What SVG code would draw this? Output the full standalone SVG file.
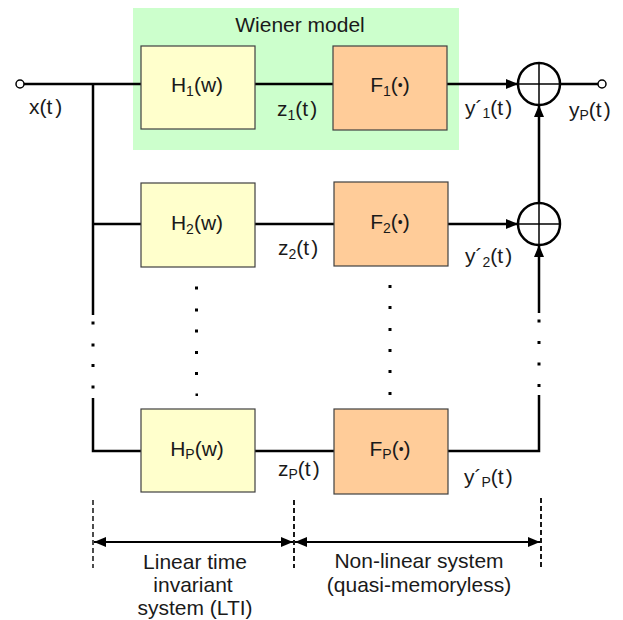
<svg xmlns="http://www.w3.org/2000/svg" width="623" height="620" viewBox="0 0 623 620">
<defs>
<style>
text{font-family:"Liberation Sans",Arial,sans-serif;font-size:21px;fill:#1a1a1a}
.c{text-anchor:middle}
.s{font-size:14px}
.b{font-size:14px}
.ln{stroke:#000;stroke-width:2.5;fill:none}
.hb{fill:#FFFFCC;stroke:#404040;stroke-width:1.2}
.fb{fill:#FFCC99;stroke:#404040;stroke-width:1.2}
.sum{fill:#fff;stroke:#000;stroke-width:2.5}
.x{stroke:#000;stroke-width:1.5}
.dash{stroke:#000;stroke-width:1.8;stroke-dasharray:5,3;fill:none}
.dot{fill:#000}
</style>
<marker id="ah" viewBox="0 0 12 10" refX="12" refY="5" markerWidth="12" markerHeight="10" markerUnits="userSpaceOnUse" orient="auto">
<path d="M0,0 L12,5 L0,10 Z" fill="#000"/>
</marker>
<marker id="as" viewBox="0 0 12 10" refX="0" refY="5" markerWidth="12" markerHeight="10" markerUnits="userSpaceOnUse" orient="auto">
<path d="M12,0 L0,5 L12,10 Z" fill="#000"/>
</marker>
</defs>

<g id="wiener">
<rect x="133" y="8" width="326" height="142" fill="#CCFFCC"/>
<text class="c" x="300" y="32">Wiener model</text>
</g>

<g id="connectors">
<line class="ln" x1="24" y1="84" x2="141" y2="84"/>
<line class="ln" x1="93" y1="84" x2="93" y2="315"/>
<polyline class="ln" points="93,398 93,451 141,451"/>
<line class="ln" x1="93" y1="224" x2="141" y2="224"/>
<line class="ln" x1="255" y1="84" x2="333" y2="84"/>
<line class="ln" x1="255" y1="224" x2="334" y2="224"/>
<line class="ln" x1="255" y1="451" x2="334" y2="451"/>
<line class="ln" x1="447" y1="84" x2="518" y2="84" marker-end="url(#ah)"/>
<line class="ln" x1="448" y1="224" x2="518" y2="224" marker-end="url(#ah)"/>
<line class="ln" x1="539" y1="203" x2="539" y2="105" marker-end="url(#ah)"/>
<line class="ln" x1="539" y1="313" x2="539" y2="245" marker-end="url(#ah)"/>
<polyline class="ln" points="448,451 539,451 539,395"/>
<line class="ln" x1="560" y1="84" x2="598" y2="84"/>
<g class="dot">
<rect x="91.5" y="321.5" width="3" height="3"/>
<rect x="91.5" y="343.5" width="3" height="3"/>
<rect x="91.5" y="364" width="3" height="3"/>
<rect x="91.5" y="385.5" width="3" height="3"/>
<rect x="537.5" y="319.5" width="3" height="3"/>
<rect x="537.5" y="341" width="3" height="3"/>
<rect x="537.5" y="362.5" width="3" height="3"/>
<rect x="537.5" y="384" width="3" height="3"/>
<rect x="195" y="286.5" width="3" height="3"/>
<rect x="195" y="308.5" width="3" height="3"/>
<rect x="195" y="329.5" width="3" height="3"/>
<rect x="195" y="351" width="3" height="3"/>
<rect x="195" y="372" width="3" height="3"/>
<rect x="195.5" y="393.5" width="2.5" height="2.5"/>
<rect x="388.5" y="285" width="3" height="3"/>
<rect x="388.5" y="306" width="3" height="3"/>
<rect x="388.5" y="328" width="3" height="3"/>
<rect x="388.5" y="349" width="3" height="3"/>
<rect x="388.5" y="370" width="3" height="3"/>
<rect x="388.5" y="392" width="3" height="3"/>
</g>
<line class="dash" x1="93" y1="500" x2="93" y2="568" style="stroke-width:1.4"/>
<line class="dash" x1="294" y1="500" x2="294" y2="568"/>
<line class="dash" x1="541" y1="498" x2="541" y2="570"/>
<line x1="94" y1="542" x2="293" y2="542" stroke="#000" stroke-width="2.2" marker-start="url(#as)" marker-end="url(#ah)"/>
<line x1="295" y1="542" x2="540" y2="542" stroke="#000" stroke-width="2.2" marker-start="url(#as)" marker-end="url(#ah)"/>
</g>

<g id="in"><circle cx="20" cy="84" r="4" fill="#fff" stroke="#000" stroke-width="1.5"/></g>
<g id="out"><circle cx="602" cy="84" r="4" fill="#fff" stroke="#000" stroke-width="1.5"/></g>

<g id="H1"><rect class="hb" x="141" y="46" width="114" height="83"/><text class="c" x="197" y="92">H<tspan class="s" dy="4">1</tspan><tspan dy="-4">(w)</tspan></text></g>
<g id="F1"><rect class="fb" x="333" y="46" width="114" height="84"/><text class="c" x="390" y="92">F<tspan class="s" dy="4">1</tspan><tspan dy="-4">(</tspan><tspan class="b" dy="-2">•</tspan><tspan dy="2">)</tspan></text></g>
<g id="H2"><rect class="hb" x="141" y="183" width="114" height="84"/><text class="c" x="197" y="230">H<tspan class="s" dy="4">2</tspan><tspan dy="-4">(w)</tspan></text></g>
<g id="F2"><rect class="fb" x="334" y="182" width="114" height="84"/><text class="c" x="390" y="229">F<tspan class="s" dy="4">2</tspan><tspan dy="-4">(</tspan><tspan class="b" dy="-2">•</tspan><tspan dy="2">)</tspan></text></g>
<g id="HP"><rect class="hb" x="141" y="409" width="114" height="83"/><text class="c" x="197" y="456">H<tspan class="s" dy="3">P</tspan><tspan dy="-3">(w)</tspan></text></g>
<g id="FP"><rect class="fb" x="334" y="409" width="114" height="85"/><text class="c" x="390" y="456">F<tspan class="s" dy="3">P</tspan><tspan dy="-3">(</tspan><tspan class="b" dy="-2">•</tspan><tspan dy="2">)</tspan></text></g>

<g id="sum1"><circle class="sum" cx="539" cy="84" r="21"/><line class="x" x1="518" y1="84" x2="560" y2="84"/><line class="x" x1="539" y1="63" x2="539" y2="105"/></g>
<g id="sum2"><circle class="sum" cx="539" cy="224" r="21"/><line class="x" x1="518" y1="224" x2="560" y2="224"/><line class="x" x1="539" y1="203" x2="539" y2="245"/></g>

<g id="labels">
<text x="29" y="114">x(t<tspan dx="3">)</tspan></text>
<text x="277" y="116">z<tspan class="s" dy="4">1</tspan><tspan dy="-4">(t</tspan><tspan dx="2">)</tspan></text>
<text x="278" y="255">z<tspan class="s" dy="4">2</tspan><tspan dy="-4">(t</tspan><tspan dx="2">)</tspan></text>
<text x="278" y="476">z<tspan class="s" dy="3">P</tspan><tspan dy="-3">(t</tspan><tspan dx="2">)</tspan></text>
<text x="465" y="115">y´<tspan class="s" dy="3">1</tspan><tspan dy="-3">(t</tspan><tspan dx="2">)</tspan></text>
<text x="465" y="263">y´<tspan class="s" dy="4">2</tspan><tspan dy="-4">(t</tspan><tspan dx="2">)</tspan></text>
<text x="464" y="484">y´<tspan class="s" dy="3">P</tspan><tspan dy="-3">(t</tspan><tspan dx="2">)</tspan></text>
<text x="569" y="117">y<tspan class="s" dy="3">P</tspan><tspan dy="-3">(t</tspan><tspan dx="2">)</tspan></text>
<text class="c" x="195" y="569">Linear time</text>
<text class="c" x="193" y="592">invariant</text>
<text class="c" x="195" y="615">system (LTI)</text>
<text class="c" x="419" y="568">Non-linear system</text>
<text class="c" x="419" y="592">(quasi-memoryless)</text>
</g>
</svg>
